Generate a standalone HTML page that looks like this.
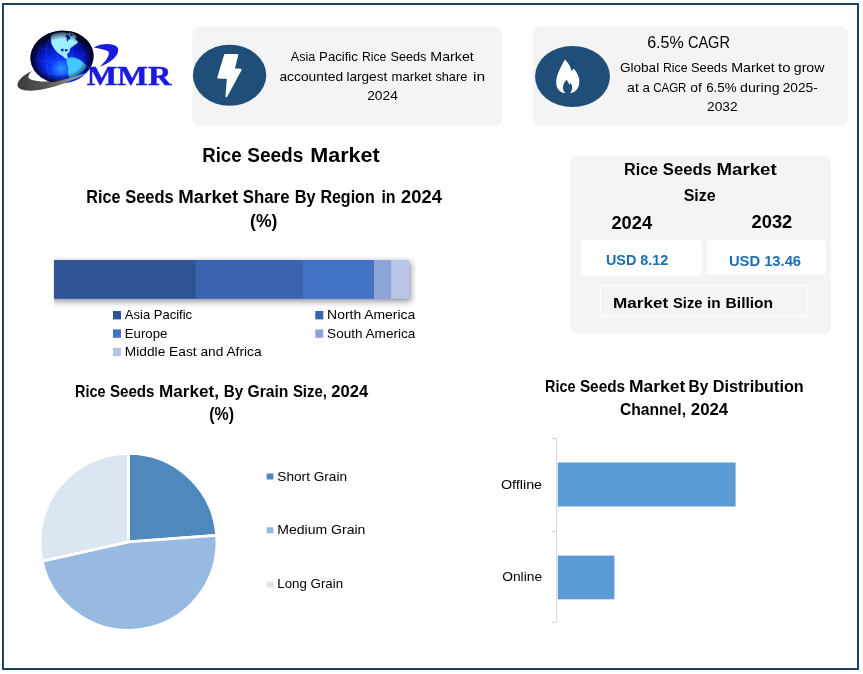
<!DOCTYPE html>
<html lang="en"><head><meta charset="utf-8"><title>Rice Seeds Market</title>
<style>
html,body{margin:0;padding:0;background:#fff;}
body{width:863px;height:674px;overflow:hidden;position:relative;font-family:"Liberation Sans",sans-serif;}
svg{position:absolute;left:0;top:0;display:block;}
text{white-space:pre;}
</style></head><body>
<svg width="863" height="674" viewBox="0 0 863 674">
<defs>
<radialGradient id="gl" cx="0.47" cy="0.70" r="0.62" fx="0.47" fy="0.72">
<stop offset="0" stop-color="#2f9dff"/><stop offset="0.28" stop-color="#0b3cf8"/><stop offset="0.6" stop-color="#0718d0"/><stop offset="0.85" stop-color="#040c80"/><stop offset="1" stop-color="#01052a"/>
</radialGradient>
<linearGradient id="sw" x1="17" y1="0" x2="88" y2="0" gradientUnits="userSpaceOnUse">
<stop offset="0" stop-color="#3a3a3a"/><stop offset="0.45" stop-color="#5a5a5a"/><stop offset="1" stop-color="#b0b0b0"/>
</linearGradient>
<filter id="sh" x="-5%" y="-30%" width="110%" height="180%"><feGaussianBlur stdDeviation="3"/></filter>
<radialGradient id="rim" cx="0.5" cy="0.5" r="0.5"><stop offset="0.68" stop-color="#000020" stop-opacity="0"/><stop offset="1" stop-color="#000018" stop-opacity="0.85"/></radialGradient>
<clipPath id="above"><path d="M0 0 H120 V60 L88 72.500 C74 77 58 81.500 45 81.500 L20 81 Z"/></clipPath>
<clipPath id="shc"><rect x="54" y="250" width="380" height="70"/></clipPath>
<clipPath id="gc"><ellipse cx="62" cy="57" rx="31.6" ry="26.3" transform="rotate(-6 62 57)"/></clipPath>
</defs>
<rect x="0" y="0" width="863" height="674" fill="#fff"/>
<!-- outer frame -->
<rect x="3" y="4" width="855" height="665" fill="none" stroke="#1e4263" stroke-width="2"/>

<g id="logo">
<ellipse cx="62" cy="57" rx="31.6" ry="26.3" fill="url(#gl)" transform="rotate(-6 62 57)"/>
<g clip-path="url(#gc)">
<g fill="none" stroke="#6f9bff" stroke-width="0.5" opacity="0.32">
<path d="M32 58 Q60 70 93 50"/><path d="M35 69 Q60 81 89 64"/><path d="M35 46 Q58 57 90 40"/>
<path d="M50 34 Q41 58 52 83"/><path d="M60 32 Q54 58 65 84"/><path d="M42 40 Q33 58 43 78"/><path d="M72 33 Q70 56 78 80"/>
</g>
<path d="M51.300 35.300 L54.800 33.400 L59.400 32.600 L64 32.200 L66.500 33.600 L70 32.600 L74 34 L76.500 36.800 L75 38.500 L78 42.300 L74.900 44.600 L71 47.300 L69.500 49.200 L69.300 51.600 L68 53.200 L66.800 54.200 L67.600 58.300 L66.400 59.100 L62.500 55.800 L57.100 51.900 L54 48 L51.700 43.400 L51 39 Z" fill="#9cf0ff" stroke="#9cf0ff" stroke-width="0.6" stroke-linejoin="round"/>
<path d="M65 35.500 L67.500 34.800 L69.800 36.300 L70.400 39.600 L68.600 39.200 L67.800 41.800 L66.600 40.200 L66.800 37.800 Z" fill="#0a1a9a"/>
<path d="M70.500 33.800 L72.500 34.600 L72 36 L70.600 35.300 Z" fill="#0a1a9a"/>
<ellipse cx="62.300" cy="50.100" rx="1.600" ry="1.500" fill="#1238e0"/><ellipse cx="66.200" cy="50.200" rx="1.400" ry="1.300" fill="#1238e0"/>
<path d="M67.100 58.900 L70.200 57.700 L74.900 58.100 L80.300 60.400 L84.100 63.500 L86.400 65.800 L84.900 68.900 L81 72.800 L74.900 75.800 L69.500 77.400 L68.300 72.800 L68.700 68.100 L67.100 63.500 Z" fill="#45c8ff" stroke="#45c8ff" stroke-width="0.8" stroke-linejoin="round"/>
</g>
<path d="M32 71 C27 73 19 78 17.500 84 C16.500 89 24 91.500 34 90.500 C52 89 72 81 88 72.500 C74 77 58 81.500 45 81.500 C34 81.500 27 79 28.500 76 C29 74 30.500 72.500 32 71 Z" fill="url(#sw)"/>
<ellipse cx="62" cy="57" rx="31.6" ry="26.3" fill="url(#rim)" transform="rotate(-6 62 57)" clip-path="url(#above)"/>
<path d="M93.900 47.400 C98 45 104 43.800 110 44.200 C114 44.500 117 46 118 48.500 C119 52 116.500 56.500 112 60 C108 63 104 65.500 99.700 66.500 C103 64 106 60.500 108 56.500 C109.500 53.500 109 51.600 107 50.700 C103.500 49.200 99 48.400 93.900 47.400 Z" fill="#1a1ae0"/>

<text x="86.8" y="84.5" textLength="84.5" lengthAdjust="spacingAndGlyphs" font-family='"Liberation Serif", serif' font-size="26.5" font-weight="700" fill="#1a1ae0" stroke="#1a1ae0" stroke-width="0.45">MMR</text>
</g>
<rect x="192.5" y="26.8" width="309.8" height="98.9" rx="7" fill="#f4f4f4"/>
<ellipse cx="229.6" cy="75.2" rx="36.7" ry="30.5" fill="#1f4e79"/>
<path d="M225 54.800 L237.400 54.800 L233.800 69.200 L240.700 69.700 L226.400 96.300 L227.800 78.100 L218.200 77.600 Z" fill="#fff" stroke="#fff" stroke-width="1.8" stroke-linejoin="round"/>
<text y="60.9" font-family='"Liberation Sans", sans-serif' font-size="13.3" font-weight="400" fill="#000"><tspan x="290.8" textLength="24.5" lengthAdjust="spacingAndGlyphs">Asia</tspan> <tspan x="319.1" textLength="38.8" lengthAdjust="spacingAndGlyphs">Pacific</tspan> <tspan x="361.9" textLength="24.5" lengthAdjust="spacingAndGlyphs">Rice</tspan> <tspan x="390.4" textLength="36.1" lengthAdjust="spacingAndGlyphs">Seeds</tspan> <tspan x="430.3" textLength="43.5" lengthAdjust="spacingAndGlyphs">Market</tspan></text>
<text y="80.9" font-family='"Liberation Sans", sans-serif' font-size="13.3" font-weight="400" fill="#000"><tspan x="279.4" textLength="63.8" lengthAdjust="spacingAndGlyphs">accounted</tspan> <tspan x="346.4" textLength="40.9" lengthAdjust="spacingAndGlyphs">largest</tspan> <tspan x="391.6" textLength="40.0" lengthAdjust="spacingAndGlyphs">market</tspan> <tspan x="435.4" textLength="31.9" lengthAdjust="spacingAndGlyphs">share</tspan> <tspan x="473.1" textLength="12.1" lengthAdjust="spacingAndGlyphs">in</tspan></text>
<text x="367.2" y="100.2" textLength="30.7" lengthAdjust="spacingAndGlyphs" font-family='"Liberation Sans", sans-serif' font-size="13.3" font-weight="400" fill="#000" >2024</text>
<rect x="533" y="26.6" width="315.2" height="99.1" rx="7" fill="#f4f4f4"/>
<ellipse cx="572.5" cy="76.5" rx="37.5" ry="30.6" fill="#1f4e79"/>
<path fill="#fff" d="M564.900 59.500 C566.500 61 568 63 568.900 64.500 C570 66.500 571 68.800 571.500 71 C572.200 70 573 69.200 574 68.800 C575.500 70.500 576.700 72.500 577.500 74.300 C578.800 77 579.400 79.500 579.300 81.500 C579.300 84 578.800 86 578 87.500 C577 89.500 575.800 91 574.300 91.800 C573 92.600 571.500 93 569.800 93 C571 92 571.800 90.500 572.100 88.500 C572.300 86.500 571.800 84.500 570.600 83 C570.200 83.800 569.800 84.400 569.300 84.800 C568.800 83 567.800 81.300 566.500 79.800 C565 81.500 563.800 83.300 563.300 85.200 C562.800 87 562.900 88.800 563.400 90.200 C563.800 91.400 564.500 92.300 565.300 93 C563.500 93 562 92.600 560.800 91.700 C559.300 90.800 558 89.400 557.200 87.500 C556.400 85.800 556.100 84 556.200 82 C556.200 79.500 556.800 76.500 558 73.500 C559.500 69.500 562 64.500 564.900 59.500 Z"/>
<text y="47.7" font-family='"Liberation Sans", sans-serif' font-size="16.2" font-weight="400" fill="#000"><tspan x="647.2" textLength="36.6" lengthAdjust="spacingAndGlyphs">6.5%</tspan> <tspan x="687.9" textLength="42.0" lengthAdjust="spacingAndGlyphs">CAGR</tspan></text>
<text y="71.9" font-family='"Liberation Sans", sans-serif' font-size="13.3" font-weight="400" fill="#000"><tspan x="619.9" textLength="39.3" lengthAdjust="spacingAndGlyphs">Global</tspan> <tspan x="662.9" textLength="24.6" lengthAdjust="spacingAndGlyphs">Rice</tspan> <tspan x="690.9" textLength="36.6" lengthAdjust="spacingAndGlyphs">Seeds</tspan> <tspan x="731.2" textLength="43.6" lengthAdjust="spacingAndGlyphs">Market</tspan> <tspan x="778.1" textLength="12.4" lengthAdjust="spacingAndGlyphs">to</tspan> <tspan x="793.8" textLength="30.6" lengthAdjust="spacingAndGlyphs">grow</tspan></text>
<text y="91.8" font-family='"Liberation Sans", sans-serif' font-size="13.3" font-weight="400" fill="#000"><tspan x="627.1" textLength="11.7" lengthAdjust="spacingAndGlyphs">at</tspan> <tspan x="642.5" textLength="7.4" lengthAdjust="spacingAndGlyphs">a</tspan> <tspan x="653.2" textLength="33.2" lengthAdjust="spacingAndGlyphs">CAGR</tspan> <tspan x="690.3" textLength="11.5" lengthAdjust="spacingAndGlyphs">of</tspan> <tspan x="706.2" textLength="30.4" lengthAdjust="spacingAndGlyphs">6.5%</tspan> <tspan x="740.0" textLength="39.6" lengthAdjust="spacingAndGlyphs">during</tspan> <tspan x="782.7" textLength="35.1" lengthAdjust="spacingAndGlyphs">2025-</tspan></text>
<text x="707.1" y="111.2" textLength="30.5" lengthAdjust="spacingAndGlyphs" font-family='"Liberation Sans", sans-serif' font-size="13.3" font-weight="400" fill="#000" >2032</text>
<text y="161.8" font-family='"Liberation Sans", sans-serif' font-size="20.3" font-weight="700" fill="#000"><tspan x="202.2" textLength="39.4" lengthAdjust="spacingAndGlyphs">Rice</tspan> <tspan x="247.2" textLength="56.2" lengthAdjust="spacingAndGlyphs">Seeds</tspan> <tspan x="310.2" textLength="69.6" lengthAdjust="spacingAndGlyphs">Market</tspan></text>
<text y="202.7" font-family='"Liberation Sans", sans-serif' font-size="17.5" font-weight="700" fill="#000"><tspan x="86.3" textLength="34.2" lengthAdjust="spacingAndGlyphs">Rice</tspan> <tspan x="125.2" textLength="48.6" lengthAdjust="spacingAndGlyphs">Seeds</tspan> <tspan x="178.3" textLength="60.0" lengthAdjust="spacingAndGlyphs">Market</tspan> <tspan x="242.8" textLength="46.7" lengthAdjust="spacingAndGlyphs">Share</tspan> <tspan x="294.8" textLength="20.8" lengthAdjust="spacingAndGlyphs">By</tspan> <tspan x="320.4" textLength="54.3" lengthAdjust="spacingAndGlyphs">Region</tspan> <tspan x="381.4" textLength="14.2" lengthAdjust="spacingAndGlyphs">in</tspan> <tspan x="401.0" textLength="40.9" lengthAdjust="spacingAndGlyphs">2024</tspan></text>
<text x="250.1" y="227.0" textLength="27.4" lengthAdjust="spacingAndGlyphs" font-family='"Liberation Sans", sans-serif' font-size="19" font-weight="700" fill="#000" >(%)</text>
<g clip-path="url(#shc)"><rect x="52" y="262" width="359" height="39.5" fill="#141c38" opacity="0.48" filter="url(#sh)"/></g>
<rect x="53.9" y="260" width="142.1" height="38.8" fill="#2f5597"/>
<rect x="195.7" y="260" width="107.6" height="38.8" fill="#3a64ad"/>
<rect x="303" y="260" width="71.3" height="38.8" fill="#4472c4"/>
<rect x="374" y="260" width="17.4" height="38.8" fill="#8ea3d6"/>
<rect x="391.1" y="260" width="17.9" height="38.8" fill="#b9c5e5"/>
<rect x="113" y="311" width="8" height="8.4" fill="#2f5597"/>
<text x="124.8" y="319.0" textLength="67.3" lengthAdjust="spacingAndGlyphs" font-family='"Liberation Sans", sans-serif' font-size="12.8" font-weight="400" fill="#000" >Asia Pacific</text>
<rect x="113" y="329.4" width="8" height="8.4" fill="#4472c4"/>
<text x="124.8" y="337.6" textLength="42.5" lengthAdjust="spacingAndGlyphs" font-family='"Liberation Sans", sans-serif' font-size="12.8" font-weight="400" fill="#000" >Europe</text>
<rect x="113" y="347.8" width="8" height="8.4" fill="#b9c5e5"/>
<text x="124.8" y="356.0" textLength="136.8" lengthAdjust="spacingAndGlyphs" font-family='"Liberation Sans", sans-serif' font-size="12.8" font-weight="400" fill="#000" >Middle East and Africa</text>
<rect x="315.3" y="311" width="8" height="8.4" fill="#3a64ad"/>
<text x="327.1" y="319.0" textLength="88.2" lengthAdjust="spacingAndGlyphs" font-family='"Liberation Sans", sans-serif' font-size="12.8" font-weight="400" fill="#000" >North America</text>
<rect x="315.3" y="329.4" width="8" height="8.4" fill="#8ea3d6"/>
<text x="327.1" y="337.6" textLength="88.2" lengthAdjust="spacingAndGlyphs" font-family='"Liberation Sans", sans-serif' font-size="12.8" font-weight="400" fill="#000" >South America</text>
<rect x="570.4" y="155.7" width="260.5" height="178" rx="7" fill="#f4f4f4"/>
<text y="174.6" font-family='"Liberation Sans", sans-serif' font-size="17.2" font-weight="700" fill="#000"><tspan x="624.0" textLength="34.1" lengthAdjust="spacingAndGlyphs">Rice</tspan> <tspan x="662.8" textLength="49.0" lengthAdjust="spacingAndGlyphs">Seeds</tspan> <tspan x="716.5" textLength="60.2" lengthAdjust="spacingAndGlyphs">Market</tspan></text>
<text x="683.7" y="200.8" textLength="32.0" lengthAdjust="spacingAndGlyphs" font-family='"Liberation Sans", sans-serif' font-size="17" font-weight="700" fill="#000" >Size</text>
<text x="611.4" y="228.7" textLength="40.7" lengthAdjust="spacingAndGlyphs" font-family='"Liberation Sans", sans-serif' font-size="17.6" font-weight="700" fill="#000" >2024</text>
<text x="751.6" y="227.7" textLength="40.7" lengthAdjust="spacingAndGlyphs" font-family='"Liberation Sans", sans-serif' font-size="17.6" font-weight="700" fill="#000" >2032</text>
<rect x="581.1" y="240.1" width="120.5" height="35.3" rx="3" fill="#fff"/>
<rect x="707" y="240.1" width="118.8" height="35" rx="3" fill="#fff"/>
<text x="605.9" y="264.8" textLength="62.4" lengthAdjust="spacingAndGlyphs" font-family='"Liberation Sans", sans-serif' font-size="14.8" font-weight="700" fill="#1b6fb6" >USD 8.12</text>
<text x="728.9" y="266.0" textLength="72.2" lengthAdjust="spacingAndGlyphs" font-family='"Liberation Sans", sans-serif' font-size="14.8" font-weight="700" fill="#1b6fb6" >USD 13.46</text>
<rect x="600.4" y="285.7" width="207.5" height="30.6" fill="none" stroke="#fff" stroke-width="1"/>
<text y="308.3" font-family='"Liberation Sans", sans-serif' font-size="15.2" font-weight="700" fill="#000"><tspan x="613.0" textLength="55.2" lengthAdjust="spacingAndGlyphs">Market</tspan> <tspan x="673.0" textLength="29.6" lengthAdjust="spacingAndGlyphs">Size</tspan> <tspan x="707.0" textLength="13.7" lengthAdjust="spacingAndGlyphs">in</tspan> <tspan x="725.6" textLength="47.5" lengthAdjust="spacingAndGlyphs">Billion</tspan></text>
<text y="396.8" font-family='"Liberation Sans", sans-serif' font-size="16.5" font-weight="700" fill="#000"><tspan x="75.0" textLength="30.4" lengthAdjust="spacingAndGlyphs">Rice</tspan> <tspan x="109.9" textLength="44.6" lengthAdjust="spacingAndGlyphs">Seeds</tspan> <tspan x="159.0" textLength="60.0" lengthAdjust="spacingAndGlyphs">Market,</tspan> <tspan x="223.7" textLength="19.4" lengthAdjust="spacingAndGlyphs">By</tspan> <tspan x="247.5" textLength="40.9" lengthAdjust="spacingAndGlyphs">Grain</tspan> <tspan x="292.9" textLength="34.0" lengthAdjust="spacingAndGlyphs">Size,</tspan> <tspan x="331.3" textLength="36.8" lengthAdjust="spacingAndGlyphs">2024</tspan></text>
<text x="209.3" y="419.6" textLength="24.8" lengthAdjust="spacingAndGlyphs" font-family='"Liberation Sans", sans-serif' font-size="17.5" font-weight="700" fill="#000" >(%)</text>
<path d="M128.4 541.8 L128.40 453.30 A88.5 88.5 0 0 1 216.66 535.32 Z" fill="#4e88bd" stroke="#fff" stroke-width="2.8" stroke-linejoin="round"/>
<path d="M128.4 541.8 L216.66 535.32 A88.5 88.5 0 0 1 42.03 561.11 Z" fill="#98b9e0" stroke="#fff" stroke-width="2.8" stroke-linejoin="round"/>
<path d="M128.4 541.8 L42.03 561.11 A88.5 88.5 0 0 1 128.40 453.30 Z" fill="#dce6f2" stroke="#fff" stroke-width="2.8" stroke-linejoin="round"/>
<rect x="266.7" y="473.5" width="6.7" height="6" fill="#4e88bd"/>
<text x="277.3" y="480.6" textLength="69.8" lengthAdjust="spacingAndGlyphs" font-family='"Liberation Sans", sans-serif' font-size="13" font-weight="400" fill="#000" >Short Grain</text>
<rect x="266.7" y="527.3" width="6.7" height="6" fill="#98b9e0"/>
<text x="277.3" y="534.0" textLength="88.1" lengthAdjust="spacingAndGlyphs" font-family='"Liberation Sans", sans-serif' font-size="13" font-weight="400" fill="#000" >Medium Grain</text>
<rect x="266.7" y="581.4" width="6.7" height="6" fill="#dce6f2"/>
<text x="277.3" y="587.9" textLength="65.8" lengthAdjust="spacingAndGlyphs" font-family='"Liberation Sans", sans-serif' font-size="13" font-weight="400" fill="#000" >Long Grain</text>
<text y="391.6" font-family='"Liberation Sans", sans-serif' font-size="16.5" font-weight="700" fill="#000"><tspan x="545.0" textLength="30.4" lengthAdjust="spacingAndGlyphs">Rice</tspan> <tspan x="579.9" textLength="45.2" lengthAdjust="spacingAndGlyphs">Seeds</tspan> <tspan x="629.0" textLength="56.3" lengthAdjust="spacingAndGlyphs">Market</tspan> <tspan x="688.6" textLength="19.7" lengthAdjust="spacingAndGlyphs">By</tspan> <tspan x="712.7" textLength="91.1" lengthAdjust="spacingAndGlyphs">Distribution</tspan></text>
<text y="415.3" font-family='"Liberation Sans", sans-serif' font-size="16.5" font-weight="700" fill="#000"><tspan x="619.9" textLength="66.1" lengthAdjust="spacingAndGlyphs">Channel,</tspan> <tspan x="690.8" textLength="37.4" lengthAdjust="spacingAndGlyphs">2024</tspan></text>
<path d="M556.500 438.500 V622.500 M551.800 438.500 H556.500 M551.800 531.500 H556.500 M551.800 622.500 H556.500" stroke="#d9d9d9" stroke-width="1" fill="none"/>
<rect x="557.8" y="462.5" width="177.8" height="44" fill="#5b9bd5"/>
<rect x="557.8" y="555.6" width="56.6" height="43.7" fill="#5b9bd5"/>
<text x="500.9" y="488.8" textLength="41.2" lengthAdjust="spacingAndGlyphs" font-family='"Liberation Sans", sans-serif' font-size="13" font-weight="400" fill="#000" >Offline</text>
<text x="502.2" y="580.6" textLength="39.9" lengthAdjust="spacingAndGlyphs" font-family='"Liberation Sans", sans-serif' font-size="13" font-weight="400" fill="#000" >Online</text>
</svg>
</body></html>
